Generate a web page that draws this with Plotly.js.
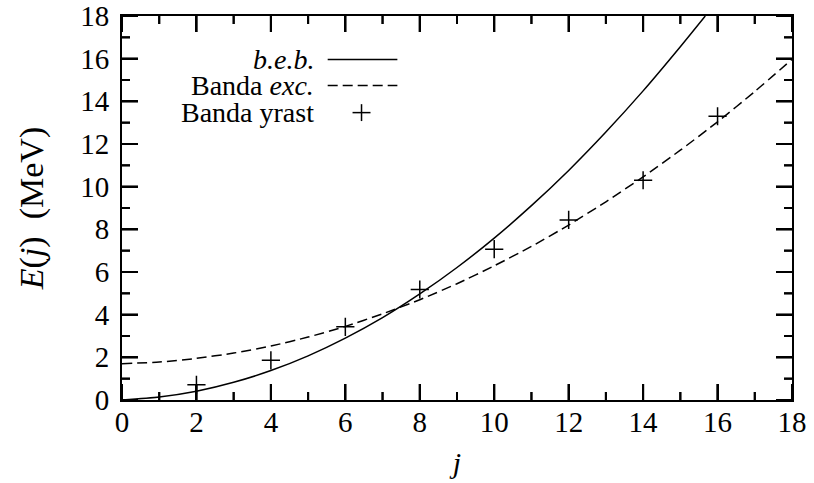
<!DOCTYPE html>
<html>
<head>
<meta charset="utf-8">
<script src="https://cdn.plot.ly/plotly-3.0.1.min.js"></script>
<style>
  html, body { margin: 0; padding: 0; background: #fff; }
  #chart { width: 814px; height: 483px; }
</style>
</head>
<body>
<div id="chart"></div>
<script>
// Spin values j and the energies of each band (MeV)
const jCurve = [0, 1, 2, 3, 4, 5, 6, 7, 8, 9, 10, 11, 12, 13, 14, 15, 15.67];
const ebeb   = [0, 0.14, 0.41, 0.83, 1.38, 2.07, 2.90, 3.86, 4.97, 6.21, 7.59, 9.11, 10.76, 12.56, 14.49, 16.56, 18.0];

const jExc = [0, 1, 2, 3, 4, 5, 6, 7, 8, 9, 10, 11, 12, 13, 14, 15, 16, 17, 18];
const eExc = [1.70, 1.78, 1.95, 2.20, 2.53, 2.95, 3.45, 4.04, 4.70, 5.45, 6.29, 7.20, 8.20, 9.29, 10.46, 11.71, 13.04, 14.46, 15.97];

const jYrast = [2, 4, 6, 8, 10, 12, 14, 16];
const eYrast = [0.71, 1.86, 3.43, 5.18, 7.07, 8.44, 10.30, 13.30];

// Axis ticks (same on both axes): labelled every 2, short marks in between
const tickVals  = [0, 2, 4, 6, 8, 10, 12, 14, 16, 18];
const minorVals = [1, 3, 5, 7, 9, 11, 13, 15, 17];

const legendLabels = ['<i>b.e.b.</i>', 'Banda <i>exc.</i>', 'Banda yrast'];

const FONT = 'Liberation Serif';
const INK = '#000';
const DASH = '10px,5px';
const MAJOR_LEN = 16, MINOR_LEN = 8, TICK_W = 2;
const LINE_SYMBOL_SCALE = 1.4;   // line-ns / line-ew / cross-thin span 1.4 x marker size

const W = 814, H = 483;
const M = { l: 122, r: 22, t: 16, b: 83 };
const PLOT_W = W - M.l - M.r, PLOT_H = H - M.t - M.b;
const lo = tickVals[0], hi = tickVals[tickVals.length - 1];
const ux = (hi - lo) / PLOT_W;   // axis units per pixel, horizontal
const uy = (hi - lo) / PLOT_H;   // axis units per pixel, vertical

// Inward tick marks on all four sides of the frame, as broken line segments
function frameTickLines(vals, len) {
  const x = [], y = [];
  vals.forEach(v => {
    x.push(v, v, null);              y.push(lo, lo + len * uy, null);   // bottom
    x.push(v, v, null);              y.push(hi, hi - len * uy, null);   // top
    x.push(lo, lo + len * ux, null); y.push(v, v, null);                // left
    x.push(hi, hi - len * ux, null); y.push(v, v, null);                // right
  });
  return {
    x: x, y: y, type: 'scatter', mode: 'lines', connectgaps: false,
    line: { color: INK, width: TICK_W }, hoverinfo: 'skip', showlegend: false
  };
}

// The same tick marks as short line symbols centred half a tick inside the frame
function frameTickMarks(vals, len) {
  const size = len / LINE_SYMBOL_SCALE;
  const vx = [], vy = [], hx = [], hy = [];
  vals.forEach(v => {
    vx.push(v, v);  vy.push(lo + len / 2 * uy, hi - len / 2 * uy);
    hx.push(lo + len / 2 * ux, hi - len / 2 * ux);  hy.push(v, v);
  });
  const mk = sym => ({ symbol: sym, size: size, color: INK, line: { color: INK, width: TICK_W } });
  return [
    { x: vx, y: vy, type: 'scatter', mode: 'markers', marker: mk('line-ns'), cliponaxis: false,
      hoverinfo: 'skip', showlegend: false },
    { x: hx, y: hy, type: 'scatter', mode: 'markers', marker: mk('line-ew'), cliponaxis: false,
      hoverinfo: 'skip', showlegend: false }
  ];
}

const traces = [
  frameTickLines(tickVals, MAJOR_LEN),
  frameTickLines(minorVals, MINOR_LEN),
  ...frameTickMarks(tickVals, MAJOR_LEN),
  ...frameTickMarks(minorVals, MINOR_LEN),
  {
    x: jCurve, y: ebeb, type: 'scatter', mode: 'lines',
    line: { color: INK, width: 1.5, shape: 'spline', smoothing: 0.6 },
    showlegend: false
  },
  {
    x: jExc, y: eExc, type: 'scatter', mode: 'lines',
    line: { color: INK, width: 1.5, dash: DASH, shape: 'spline', smoothing: 0.6 },
    showlegend: false
  },
  {
    x: jYrast, y: eYrast, type: 'scatter', mode: 'markers',
    marker: { symbol: 'cross-thin-open', size: 13, color: INK, line: { color: INK, width: 1.5 } },
    showlegend: false
  }
];

// Hand-built key: labels right-aligned, sample to the right of each label
const keyTextX = 0.289;
const keyRows = [0.8866, 0.8188, 0.7484];
const sampleX0 = 0.307, sampleX1 = 0.411, plusX = 0.3575;

const annotations = legendLabels.map((t, i) => ({
  xref: 'paper', yref: 'paper', x: keyTextX, y: keyRows[i],
  xanchor: 'right', yanchor: 'middle', showarrow: false,
  text: t, font: { family: FONT, size: 28, color: INK }
}));

const keyShapes = [
  { type: 'line', xref: 'paper', yref: 'paper', x0: sampleX0, x1: sampleX1, y0: keyRows[0], y1: keyRows[0],
    line: { color: INK, width: 1.5 } },
  { type: 'line', xref: 'paper', yref: 'paper', x0: sampleX0, x1: sampleX1, y0: keyRows[1], y1: keyRows[1],
    line: { color: INK, width: 1.5, dash: DASH } },
  { type: 'line', xref: 'paper', yref: 'paper', x0: plusX - 0.0134, x1: plusX + 0.0134, y0: keyRows[2], y1: keyRows[2],
    line: { color: INK, width: 1.5 } },
  { type: 'line', xref: 'paper', yref: 'paper', x0: plusX, x1: plusX, y0: keyRows[2] - 0.022, y1: keyRows[2] + 0.022,
    line: { color: INK, width: 1.5 } }
];

function axis(extra) {
  return Object.assign({
    range: [lo, hi],
    tickmode: 'array', tickvals: tickVals, ticktext: tickVals.map(String),
    ticks: 'inside', ticklen: MAJOR_LEN, tickwidth: TICK_W, tickcolor: INK,
    showline: true, linecolor: INK, linewidth: 2, mirror: 'allticks',
    showgrid: false, zeroline: false,
    tickfont: { family: FONT, size: 29, color: INK }
  }, extra);
}

const layout = {
  width: W, height: H,
  margin: M,
  xaxis: axis({
    ticklabelstandoff: -5,
    title: { text: '<i>j</i>', font: { family: FONT, size: 30, color: INK }, standoff: 15 }
  }),
  yaxis: axis({
    ticklabelstandoff: 5,
    title: { text: '<i>E</i>(<i>j</i>)  (MeV)', font: { family: FONT, size: 34, color: INK }, standoff: 26 }
  }),
  annotations: annotations,
  shapes: keyShapes
};

Plotly.newPlot('chart', traces, layout, { displayModeBar: false });
</script>
</body>
</html>
